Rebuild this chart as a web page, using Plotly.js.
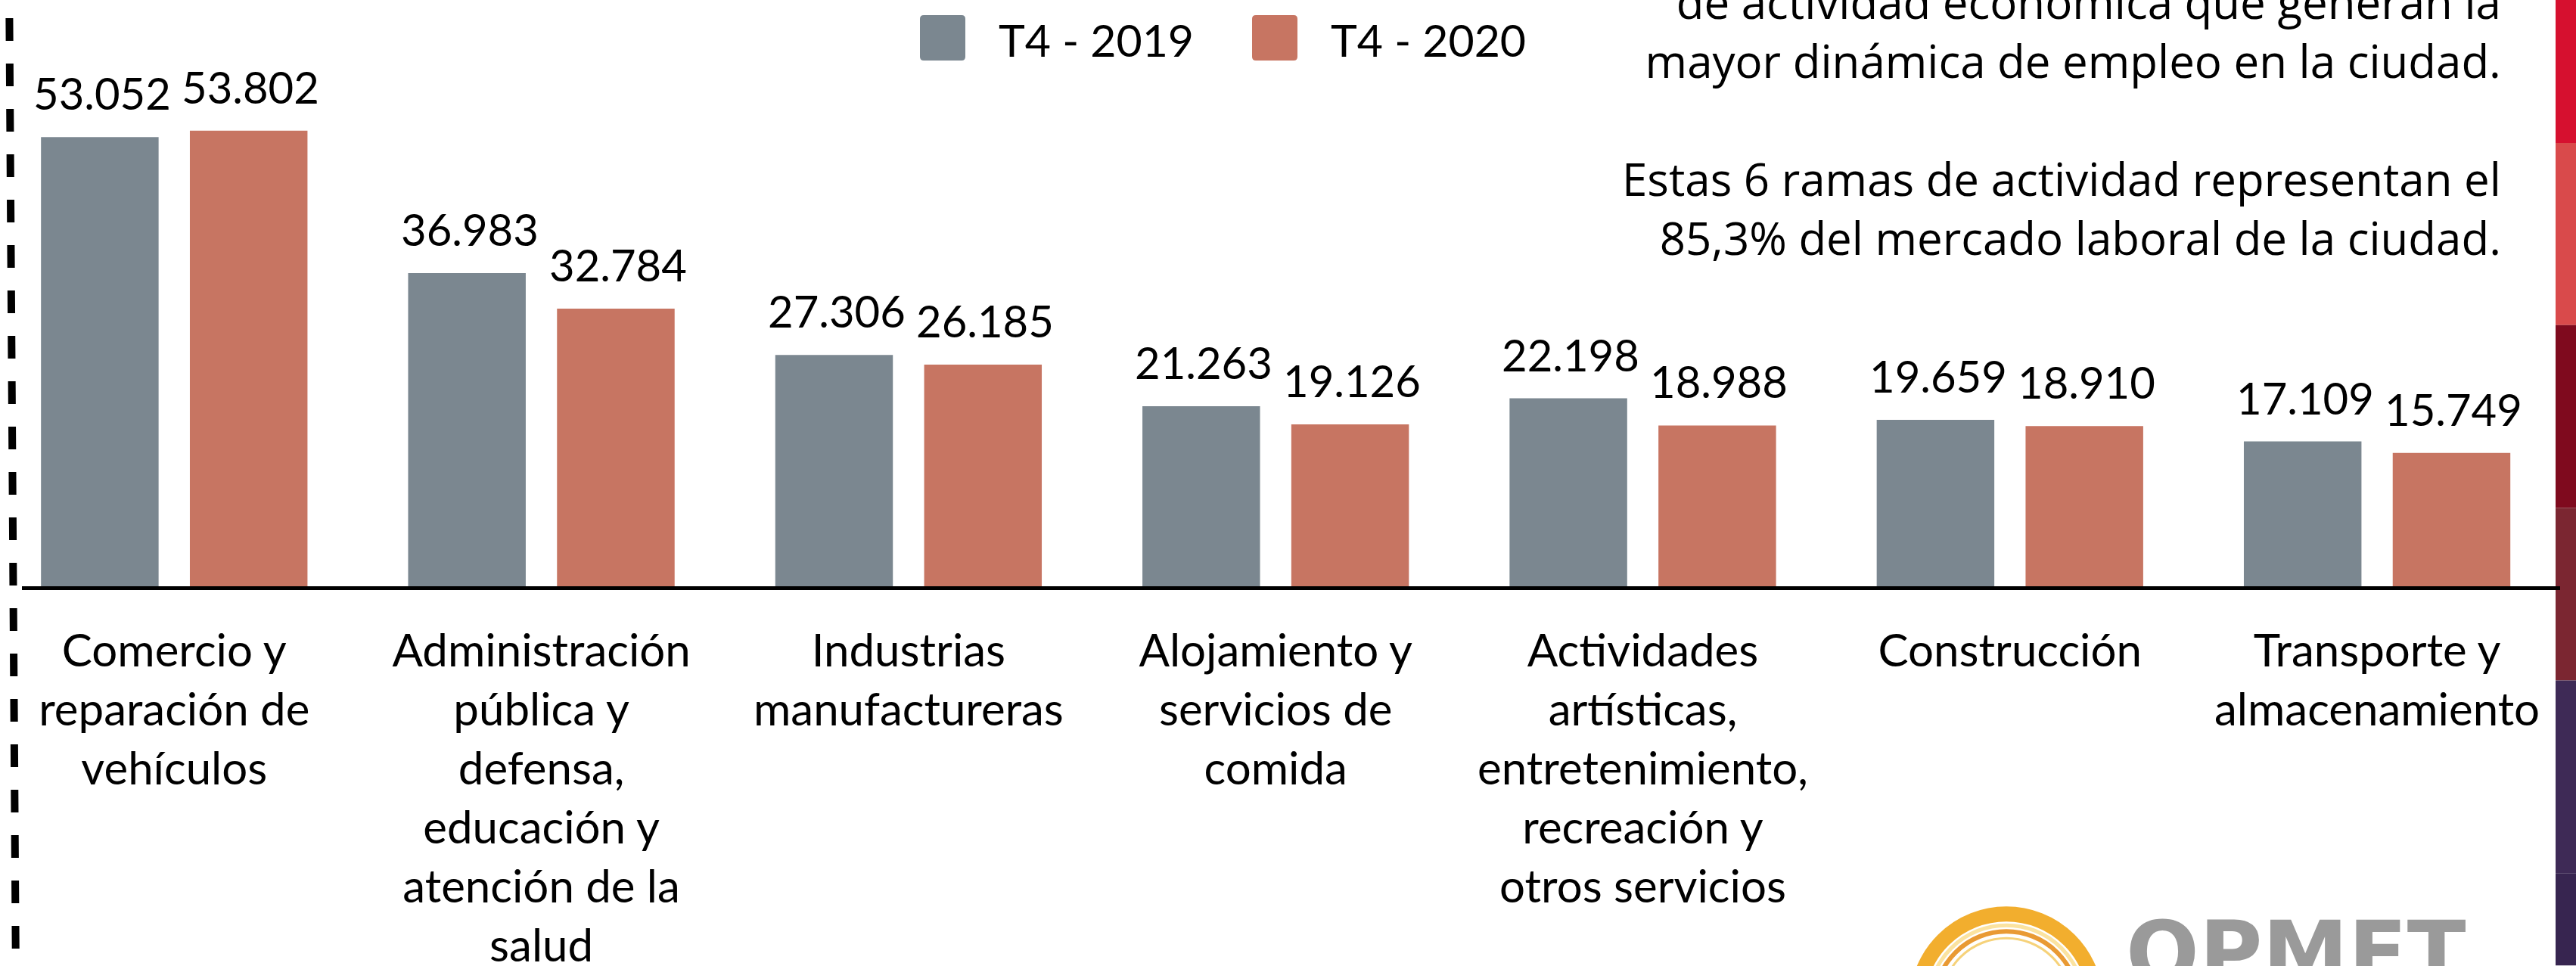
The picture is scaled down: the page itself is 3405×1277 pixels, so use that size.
<!DOCTYPE html>
<html><head><meta charset="utf-8">
<script src="https://cdn.plot.ly/plotly-3.0.1.min.js"></script>
<style>html,body{margin:0;padding:0;background:#fff;overflow:hidden}#chart{width:3405px;height:1277px}</style>
</head><body><div id="chart"></div>
<script>
// ---- data ----
const categories = [
  "Comercio y<br>reparación de<br>vehículos",
  "Administración<br>pública y<br>defensa,<br>educación y<br>atención de la<br>salud",
  "Industrias<br>manufactureras",
  "Alojamiento y<br>servicios de<br>comida",
  "Actividades<br>artísticas,<br>entretenimiento,<br>recreación y<br>otros servicios",
  "Construcción",
  "Transporte y<br>almacenamiento"
];
const seriesNames = ["T4 - 2019", "T4 - 2020"];
const values2019 = [53052, 36983, 27306, 21263, 22198, 19659, 17109];
const values2020 = [53802, 32784, 26185, 19126, 18988, 18910, 15749];
const seriesColors = ["#7B8790", "#C77562"];
const noteLines = [
  "de actividad económica que generan la",
  "mayor dinámica de empleo en la ciudad.",
  "",
  "Estas 6 ramas de actividad representan el",
  "85,3% del mercado laboral de la ciudad."
];
const logoText = "OPMET";

// ---- layout helpers (pixel -> paper) ----
const W = 3405, H = 1277;
const M = {l: 29, r: 21, t: 0, b: 501.5};
const PW = W - M.l - M.r, PH = H - M.t - M.b;
const px = x => (x - M.l) / PW;
const py = y => (H - M.b - y) / PH;
const fmt = v => String(v).replace(/\B(?=(\d{3})+(?!\d))/g, '.');
const FONT = 'Lato, "Open Sans", sans-serif';
const NOTE_FONT = '"Open Sans", Lato, sans-serif';

const seriesValues = [values2019, values2020];
const traces = seriesValues.map((vals, i) => ({
  type: 'bar', name: seriesNames[i], x: categories, y: vals,
  marker: {color: seriesColors[i], line: {width: 0}},
  showlegend: false, hovertemplate: '%{y}<extra>' + seriesNames[i] + '</extra>'
}));

const annotations = [];
const labelShift = [-95, 101];
seriesValues.forEach((vals, i) => vals.forEach((v, j) => annotations.push({
  xref: 'x', yref: 'y', x: j, y: v, text: fmt(v), showarrow: false,
  xanchor: 'center', yanchor: 'bottom', xshift: labelShift[i], yshift: 22,
  font: {family: FONT, size: 58, color: '#000'}
})));

// legend (manual, large swatches)
const legendSwatchX = [1246, 1685];
const legendTextX = [1318, 1757];
const shapes = [];
seriesNames.forEach((n, i) => {
  shapes.push({
    type: 'path', xref: 'paper', yref: 'paper', xsizemode: 'pixel', ysizemode: 'pixel',
    xanchor: px(legendSwatchX[i]), yanchor: py(50),
    path: 'M-30,-25 Q-30,-30 -25,-30 L25,-30 Q30,-30 30,-25 L30,25 Q30,30 25,30 L-25,30 Q-30,30 -30,25 Z',
    fillcolor: seriesColors[i], line: {width: 0}
  });
  annotations.push({
    xref: 'paper', yref: 'paper', x: px(legendTextX[i]), y: py(53), xanchor: 'left', yanchor: 'middle',
    text: n, showarrow: false, font: {family: FONT, size: 59, color: '#000'}
  });
});

// side note
annotations.push({
  xref: 'paper', yref: 'paper', x: px(3308), y: py(357), xanchor: 'right', yanchor: 'bottom',
  align: 'right', text: noteLines.join('<br>'), showarrow: false,
  font: {family: NOTE_FONT, size: 60, color: '#000'}
});

// dashed vertical rule at left
shapes.push({
  type: 'line', xref: 'paper', yref: 'paper', x0: px(12), y0: py(-36), x1: px(21), y1: py(1300),
  line: {color: '#000', width: 10, dash: '30px,30px'}
});

// decorative right strip
const strip = [[0, 189, '#D6102F'], [189, 430, '#D94A4B'], [430, 672, '#7F0A1E'],
               [672, 900, '#7B2631'], [900, 1155, '#3E2A56'], [1155, 1277, '#372550']];
strip.forEach(s => shapes.push({
  type: 'rect', xref: 'paper', yref: 'paper', x0: px(3378), x1: px(3405), y0: py(s[1]), y1: py(s[0]),
  fillcolor: s[2], line: {width: 0}, layer: 'below'
}));

// logo (partial, cut at bottom)
const logoCx = 2652, logoCy = 1327;
[[118, 20, '#F2AE2E'], [103, 5, '#FBE3A0'], [95, 6, '#E99A34'], [86, 3, '#F6D27A']].forEach(c => shapes.push({
  type: 'circle', xref: 'paper', yref: 'paper',
  x0: px(logoCx - c[0]), x1: px(logoCx + c[0]), y0: py(logoCy + c[0]), y1: py(logoCy - c[0]),
  line: {color: c[2], width: c[1]}
}));
annotations.push({
  xref: 'paper', yref: 'paper', x: px(2808), y: py(1192), xanchor: 'left', yanchor: 'top',
  text: '<b>' + logoText + '</b>', showarrow: false,
  font: {family: '"DejaVu Sans", sans-serif', size: 114, color: '#9A9A9A'}
});

const layout = {
  width: W, height: H, margin: M,
  paper_bgcolor: '#fff', plot_bgcolor: '#fff',
  barmode: 'group', bargap: 0.189, bargroupgap: 0.21,
  showlegend: false,
  font: {family: FONT, color: '#000'},
  xaxis: {
    type: 'category', range: [-0.4148, 6.4985], showline: true, linecolor: '#000', linewidth: 5,
    ticks: '', showgrid: false, zeroline: false, ticklabelstandoff: 29,
    tickfont: {family: FONT, size: 60, color: '#000'}, fixedrange: true, automargin: false
  },
  yaxis: {range: [0, PH / 0.0112], visible: false, fixedrange: true},
  annotations: annotations, shapes: shapes
};

Plotly.newPlot('chart', traces, layout, {displayModeBar: false, staticPlot: true});
</script>
</body></html>
